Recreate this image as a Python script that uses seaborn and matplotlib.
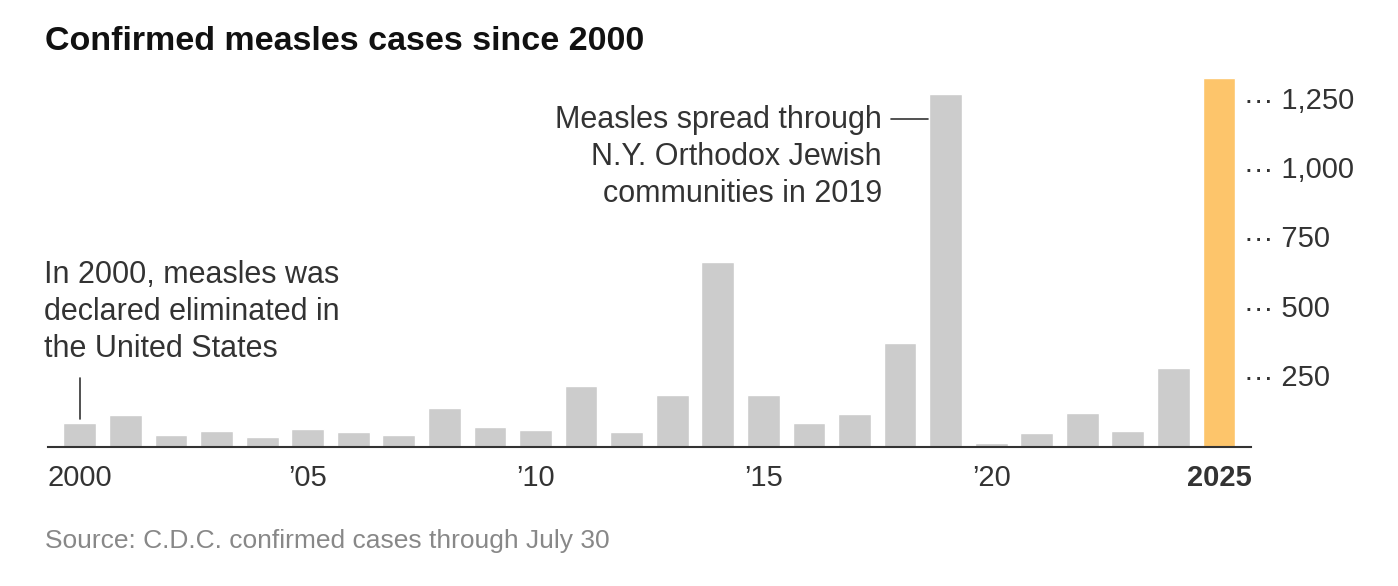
import matplotlib
matplotlib.use("Agg")
import matplotlib.pyplot as plt
import seaborn as sns
import pandas as pd

years = list(range(2000, 2026))
cases = [86, 116, 44, 56, 37, 66, 55, 43, 140, 71, 63, 220, 55, 187, 667, 188,
         86, 120, 375, 1274, 13, 49, 121, 59, 285, 1333]
ytick_vals = [250, 500, 750, 1000, 1250]
xtick_labels = {2000: "2000", 2005: "\u201905", 2010: "\u201910", 2015: "\u201915",
                2020: "\u201920", 2025: "2025"}

sns.set_style("white")
plt.rcParams['font.family'] = ['Liberation Sans', 'DejaVu Sans']

df = pd.DataFrame({"year": [str(y) for y in years], "cases": cases})
colors = ["#cccccc"] * (len(years) - 1) + ["#fdc56b"]

fig = plt.figure(figsize=(13.98, 5.86), dpi=100)
ax = fig.add_axes([0.0343, 0.2372, 0.8605, 0.635])
sns.barplot(data=df, x="year", y="cases", hue="year", palette=colors,
            legend=False, width=0.72, saturation=1, ax=ax)
ax.set_xlim(-0.7, len(years) - 0.3)
ax.set_ylim(0, 1344)
for s in ["top", "right", "left"]:
    ax.spines[s].set_visible(False)
ax.spines["bottom"].set_color("#333333")
ax.spines["bottom"].set_linewidth(1.5)
ax.set_yticks([])
ax.set_xlabel("")
ax.set_ylabel("")

pos = [years.index(y) for y in xtick_labels]
ax.set_xticks(pos)
ax.set_xticklabels(list(xtick_labels.values()), fontsize=21, color="#333333")
ax.get_xticklabels()[-1].set_fontweight("bold")
ax.tick_params(axis="x", length=7, width=1.2, color="#333333", pad=5)

for v in ytick_vals:
    ax.text(len(years) - 0.45, v, "\u00b7\u00b7\u00b7 " + f"{v:,}", fontsize=21,
            color="#333333", va="center", ha="left")

ax.plot([0, 0], [100, 250], color="#333333", lw=1.2)
ax.text(-0.78, 300, "In 2000, measles was\ndeclared eliminated in\nthe United States",
        fontsize=22, color="#333333", va="bottom", ha="left", linespacing=1.3)
i19 = years.index(2019)
ax.plot([i19 - 1.2, i19 - 0.38], [1183, 1183], color="#333333", lw=1.2)
ax.text(i19 - 1.4, 1235, "Measles spread through\nN.Y. Orthodox Jewish\ncommunities in 2019",
        fontsize=22, color="#333333", va="top", ha="right", linespacing=1.3)

fig.text(0.032, 0.93, "Confirmed measles cases since 2000", fontsize=24.5,
         fontweight="bold", color="#111111", va="center")
fig.text(0.032, 0.077, "Source: C.D.C. confirmed cases through July 30", fontsize=19,
         color="#888888", va="center")

fig.savefig("out.png", dpi=100)
